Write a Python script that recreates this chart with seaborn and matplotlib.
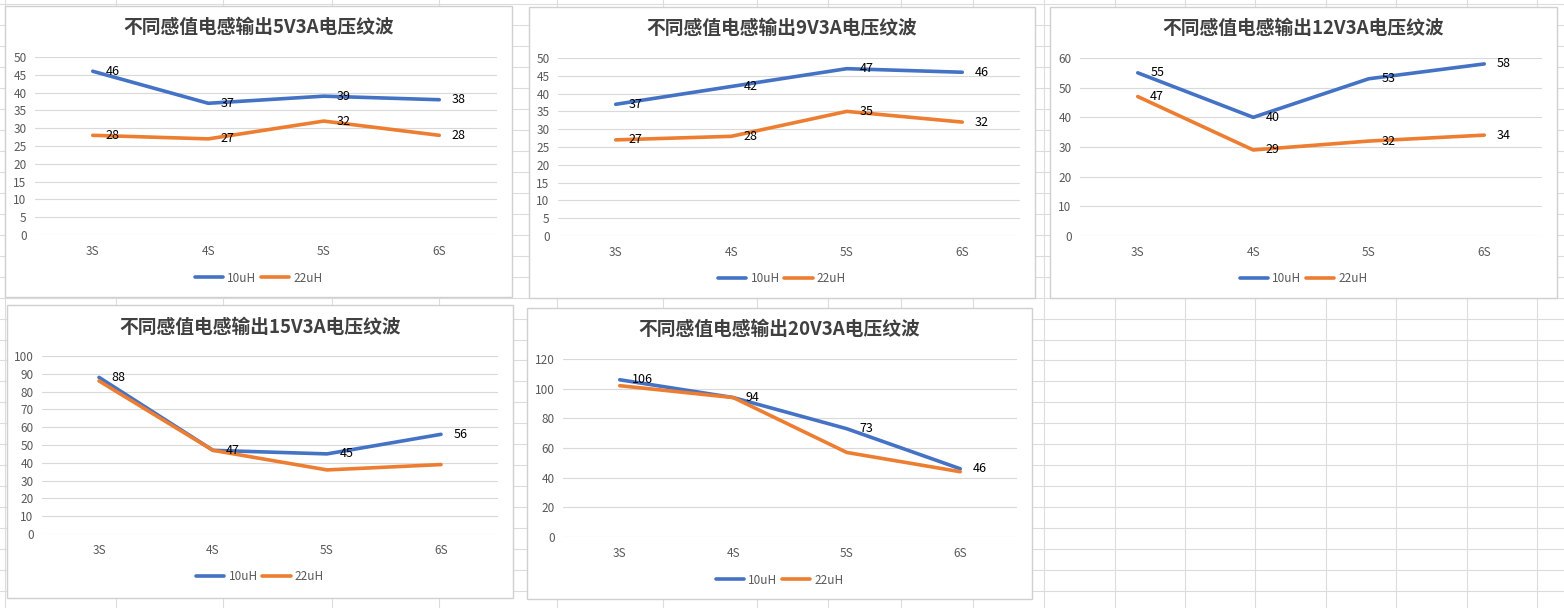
"""Excel-style ripple charts for different inductor values."""

import matplotlib.pyplot as plt
import numpy as np
import pandas as pd
import seaborn as sns
from matplotlib.lines import Line2D
from matplotlib.patches import Rectangle

# Data (ripple in mV)
CATEGORIES = ["3S", "4S", "5S", "6S"]
SERIES = ["10uH", "22uH"]
TITLES = [
    "不同感值电感输出5V3A电压纹波",
    "不同感值电感输出9V3A电压纹波",
    "不同感值电感输出12V3A电压纹波",
    "不同感值电感输出15V3A电压纹波",
    "不同感值电感输出20V3A电压纹波",
]
RIPPLE_5V_10UH = [46, 37, 39, 38]
RIPPLE_5V_22UH = [28, 27, 32, 28]
RIPPLE_9V_10UH = [37, 42, 47, 46]
RIPPLE_9V_22UH = [27, 28, 35, 32]
RIPPLE_12V_10UH = [55, 40, 53, 58]
RIPPLE_12V_22UH = [47, 29, 32, 34]
RIPPLE_15V_10UH = [88, 47, 45, 56]
RIPPLE_15V_22UH = [86, 47, 36, 39]
RIPPLE_20V_10UH = [106, 94, 73, 46]
RIPPLE_20V_22UH = [102, 94, 57, 44]

CHART_DATA = [
    (RIPPLE_5V_10UH, RIPPLE_5V_22UH),
    (RIPPLE_9V_10UH, RIPPLE_9V_22UH),
    (RIPPLE_12V_10UH, RIPPLE_12V_22UH),
    (RIPPLE_15V_10UH, RIPPLE_15V_22UH),
    (RIPPLE_20V_10UH, RIPPLE_20V_22UH),
]
# which series get data labels in each chart
LABELLED = [SERIES, SERIES, SERIES, ["10uH"], ["10uH"]]

# Layout in screen pixels: chart box, plot area, title y, legend y, y max, y step
W, H = 1564, 608
LAYOUT = [
    ((5, 6, 512, 297), (35, 57, 497, 235), 27, 278, 50, 5),
    ((529, 7, 1035, 298), (558, 58, 1020, 236), 28, 279, 50, 5),
    ((1050, 7, 1557, 298), (1080, 58, 1542, 236), 28, 279, 60, 10),
    ((7, 305, 513, 598), (42, 356, 498, 534), 327, 577, 100, 10),
    ((527, 308, 1032, 599), (563, 359, 1017, 537), 329, 580, 120, 20),
]
COLORS = {"10uH": "#4472C4", "22uH": "#ED7D31"}
GRID = "#d9d9d9"
TEXT_GRAY = "#595959"

sns.set_theme(style="white")
plt.rcParams["font.family"] = ["Noto Sans CJK SC", "DejaVu Sans"]

fig = plt.figure(figsize=(W / 100, H / 100), dpi=100)

# Spreadsheet cell grid in the background
bg = fig.add_axes([0, 0, 1, 1])
bg.set_xlim(0, W)
bg.set_ylim(H, 0)
bg.axis("off")
col_lines = [5, 116, 223, 332, 439, 557, 663, 757, 828, 901, 973,
             1044, 1115, 1185, 1255, 1326, 1396, 1467, 1537]
for x in col_lines:
    bg.axvline(x, color="#dcdcdc", lw=0.8, zorder=0)
for y in np.arange(4, H, 20.97):
    bg.axhline(y, color="#dcdcdc", lw=0.8, zorder=0)


def px_rect(x0, y0, x1, y1):
    return [x0 / W, 1 - y1 / H, (x1 - x0) / W, (y1 - y0) / H]


for title, values, labelled, layout in zip(TITLES, CHART_DATA, LABELLED, LAYOUT):
    box, plot, title_y, legend_y, ymax, ystep = layout

    # white chart panel with a light border
    bx0, by0, bx1, by1 = box
    bg.add_patch(Rectangle((bx0, by0), bx1 - bx0, by1 - by0, facecolor="white",
                           edgecolor="#d0d0d0", lw=1.0, zorder=2))

    df = pd.DataFrame({
        "挡位": CATEGORIES * len(SERIES),
        "纹波": values[0] + values[1],
        "电感": [s for s in SERIES for _ in CATEGORIES],
    })

    ax = fig.add_axes(px_rect(*plot))
    ax.patch.set_alpha(0)
    sns.lineplot(data=df, x="挡位", y="纹波", hue="电感", palette=COLORS,
                 linewidth=2.6, legend=False, ax=ax, zorder=3)

    ax.set_xlim(-0.5, len(CATEGORIES) - 0.5)
    ax.set_ylim(0, ymax)
    ax.set_yticks(np.arange(0, ymax + 1, ystep))
    ax.grid(True, axis="y", color=GRID, lw=0.8)
    ax.set_axisbelow(True)
    for spine in ax.spines.values():
        spine.set_visible(False)
    ax.tick_params(axis="both", length=0, labelsize=8.5, labelcolor=TEXT_GRAY)
    ax.tick_params(axis="x", pad=7)
    ax.tick_params(axis="y", pad=6)
    ax.set_xlabel("")
    ax.set_ylabel("")

    # data labels to the right of the points
    for name, vals in zip(SERIES, values):
        if name not in labelled:
            continue
        for i, v in enumerate(vals):
            ax.annotate(str(v), (i, v), xytext=(9, 0), textcoords="offset points",
                        ha="left", va="center", fontsize=9, color="black",
                        zorder=4)

    cx = (bx0 + bx1) / 2
    fig.text(cx / W, 1 - title_y / H, title, ha="center", va="center",
             fontsize=13.5, fontweight="bold", color="#404040")

    handles = [Line2D([], [], color=COLORS[s], lw=2.6) for s in SERIES]
    ax.legend(handles, SERIES, loc="center", bbox_to_anchor=(cx / W, 1 - legend_y / H),
              bbox_transform=fig.transFigure, ncol=2, frameon=False,
              fontsize=8.5, labelcolor=TEXT_GRAY, handlelength=2.4,
              handletextpad=0.35, columnspacing=0.4)

fig.savefig("out.png", dpi=100)
